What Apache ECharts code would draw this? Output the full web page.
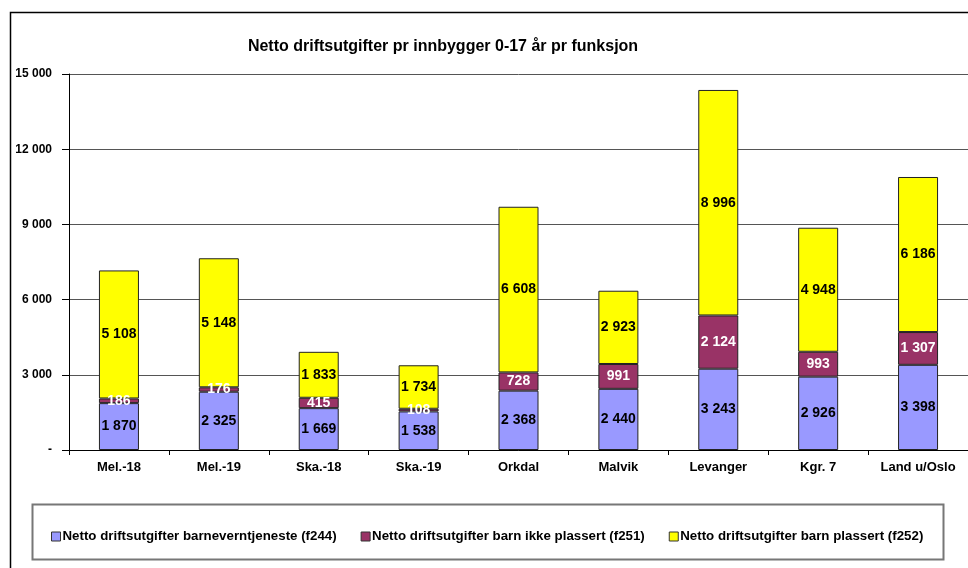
<!DOCTYPE html>
<html>
<head>
<meta charset="utf-8">
<script src="https://cdn.jsdelivr.net/npm/echarts@6/dist/echarts.min.js"></script>
<style>
  html, body { margin: 0; padding: 0; background: #fff; }
  #chart { width: 968px; height: 568px; }
</style>
</head>
<body>
<div id="chart"></div>
<script>
const categories = ['Mel.-18', 'Mel.-19', 'Ska.-18', 'Ska.-19', 'Orkdal', 'Malvik', 'Levanger', 'Kgr. 7', 'Land u/Oslo'];
const f244 = [1870, 2325, 1669, 1538, 2368, 2440, 3243, 2926, 3398];
const f251 = [186, 176, 415, 108, 728, 991, 2124, 993, 1307];
const f252 = [5108, 5148, 1833, 1734, 6608, 2923, 8996, 4948, 6186];
const seriesNames = [
    'Netto driftsutgifter barneverntjeneste (f244)',
    'Netto driftsutgifter barn ikke plassert (f251)',
    'Netto driftsutgifter barn plassert (f252)'
];

const myChart = echarts.init(document.getElementById('chart'));

// 1 870 style numbers
function fmt(v) {
    return String(v).replace(/\B(?=(\d{3})+(?!\d))/g, ' ');
}

function makeSeries(name, data, color, labelColor) {
    return {
        name: name,
        type: 'bar',
        stack: 'total',
        barWidth: 40,
        data: data,
        itemStyle: {
            color: color,
            borderColor: '#222',
            borderWidth: 1
        },
        label: {
            show: true,
            position: 'inside',
            color: labelColor,
            fontFamily: 'Liberation Sans, Arial, sans-serif',
            fontWeight: 'bold',
            fontSize: 14,
            formatter: p => fmt(p.value)
        }
    };
}

let option = {
    backgroundColor: '#fff',
    animation: false,
    title: {
        text: 'Netto driftsutgifter pr innbygger 0-17 år pr funksjon',
        left: 438,
        textAlign: 'center',
        top: 34,
        textStyle: {
            fontFamily: 'Liberation Sans, Arial, sans-serif',
            fontWeight: 'bold',
            fontSize: 16,
            color: '#000'
        }
    },
    graphic: [
        {
            type: 'rect',
            shape: { x: 10.5, y: 12.5, width: 1000, height: 600 },
            style: { fill: 'none', stroke: '#000', lineWidth: 1.5 },
            z: -10
        },
        {
            type: 'rect',
            shape: { x: 32.5, y: 504.5, width: 911, height: 55 },
            style: { fill: '#fff', stroke: '#777', lineWidth: 2 },
            z: -5
        }
    ],
    legend: {
        left: 46,
        top: 525,
        itemWidth: 9,
        itemHeight: 9,
        itemGap: 24,
        icon: 'rect',
        data: seriesNames,
        itemStyle: { borderColor: '#333', borderWidth: 1 },
        textStyle: {
            fontFamily: 'Liberation Sans, Arial, sans-serif',
            fontWeight: 'bold',
            fontSize: 13.3,
            color: '#000',
            padding: [0, 0, 0, -3]
        }
    },
    grid: {
        left: 69,
        top: 74,
        width: 900,
        height: 376
    },
    xAxis: {
        type: 'category',
        data: categories,
        axisLine: { lineStyle: { color: '#000', width: 1 } },
        axisTick: { show: true, length: 5, lineStyle: { color: '#000' } },
        axisLabel: {
            margin: 11,
            color: '#000',
            fontFamily: 'Liberation Sans, Arial, sans-serif',
            fontWeight: 'bold',
            fontSize: 13
        }
    },
    yAxis: {
        type: 'value',
        min: 0,
        max: 15000,
        interval: 3000,
        axisLine: { show: true, lineStyle: { color: '#000', width: 1 } },
        axisTick: { show: true, length: 7, lineStyle: { color: '#000' } },
        splitLine: { lineStyle: { color: '#555', width: 1 } },
        axisLabel: {
            margin: 17,
            color: '#000',
            fontFamily: 'Liberation Sans, Arial, sans-serif',
            fontWeight: 'bold',
            fontSize: 12,
            formatter: v => v === 0 ? '-' : fmt(v)
        }
    },
    series: [
        makeSeries(seriesNames[0], f244, '#9999FF', '#000'),
        makeSeries(seriesNames[1], f251, '#993366', '#fff'),
        makeSeries(seriesNames[2], f252, '#FFFF00', '#000')
    ]
};
myChart.setOption(option);
</script>
</body>
</html>
